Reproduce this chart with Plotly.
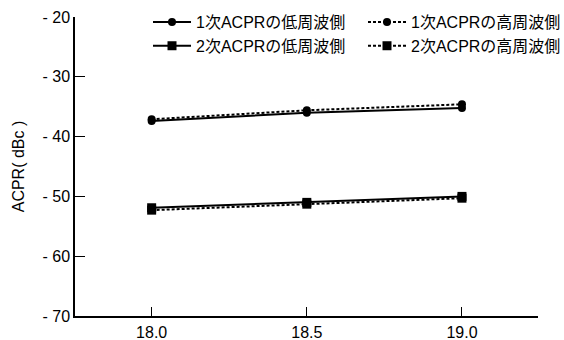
import plotly.graph_objects as go

freq = [18.0, 18.5, 19.0]
acpr1_low = [-37.4, -36.0, -35.2]
acpr1_high = [-37.1, -35.6, -34.6]
acpr2_low = [-51.9, -51.0, -50.0]
acpr2_high = [-52.3, -51.3, -50.3]
names = ["1次ACPRの低周波側", "1次ACPRの高周波側", "2次ACPRの低周波側", "2次ACPRの高周波側"]
yticks = [-20, -30, -40, -50, -60, -70]
yticklabels = ["- 20", "- 30", "- 40", "- 50", "- 60", "- 70"]
xticks = [18.0, 18.5, 19.0]
xticklabels = ["18.0", "18.5", "19.0"]

FONT = "Liberation Sans, Arial, Noto Sans CJK JP, sans-serif"
FS = 16

series = [
    (acpr1_low, "circle", "solid", 8, "legend"),
    (acpr1_high, "circle", "3px,2px", 8, "legend2"),
    (acpr2_low, "square", "solid", 9, "legend"),
    (acpr2_high, "square", "3px,2px", 9, "legend2"),
]

fig = go.Figure()
for (vals, sym, dash, msize, leg), name in zip(series, names):
    fig.add_trace(go.Scatter(
        x=freq, y=vals, name=name, mode="lines+markers",
        line=dict(color="black", width=2, dash=dash),
        marker=dict(symbol=sym, size=msize, color="black"),
        legend=leg,
    ))

W, H = 564, 340
L, R, T, B = 75, 26, 17, 24
pw = W - L - R

def px_x(px):
    return (px - L) / pw

legend_common = dict(
    orientation="v", xanchor="left", yanchor="top",
    font=dict(size=FS, family=FONT), bgcolor="rgba(0,0,0,0)",
    tracegroupgap=0, itemwidth=38, traceorder="normal",
)

fig.update_layout(
    width=W, height=H,
    margin=dict(l=L, r=R, t=T, b=B, autoexpand=False),
    paper_bgcolor="white", plot_bgcolor="white",
    font=dict(family=FONT, size=FS, color="black"),
    showlegend=True,
    legend=dict(x=px_x(148), y=1.04, **legend_common),
    legend2=dict(x=px_x(363), y=1.04, **legend_common),
    xaxis=dict(
        range=[17.753, 19.245], tickvals=xticks, ticktext=xticklabels,
        ticks="inside", ticklen=9, tickwidth=1, tickcolor="black",
        showline=True, linecolor="black", linewidth=1.5,
        showgrid=False, zeroline=False, tickfont=dict(size=FS),
        automargin=False, ticklabelstandoff=1,
    ),
    yaxis=dict(
        range=[-70, -20], tickvals=yticks, ticktext=yticklabels,
        ticks="inside", ticklen=10, tickwidth=1, tickcolor="black",
        showline=True, linecolor="black", linewidth=1.5,
        showgrid=False, zeroline=False, tickfont=dict(size=FS),
        title=dict(text="ACPR( dBc )", font=dict(size=FS), standoff=14),
        automargin=False,
    ),
)

fig.write_html("out.html")
